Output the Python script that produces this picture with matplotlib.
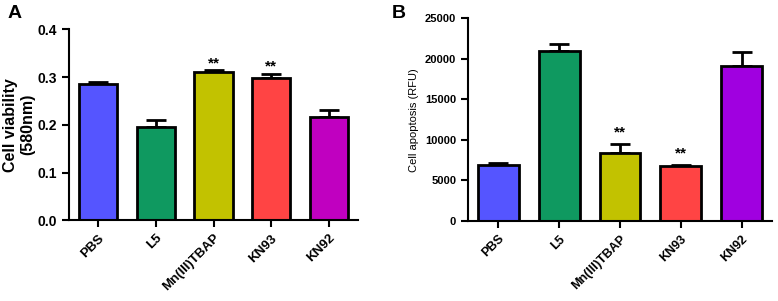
import matplotlib.pyplot as plt
import numpy as np

plt.rcParams['font.family'] = ['Liberation Sans', 'DejaVu Sans']

groups = ['PBS', 'L5', 'Mn(III)TBAP', 'KN93', 'KN92']

viability = [0.285, 0.195, 0.310, 0.298, 0.216]
viability_err = [0.005, 0.015, 0.004, 0.009, 0.015]
viability_sig = ['', '', '**', '**', '']

apoptosis = [6900, 21000, 8400, 6800, 19100]
apoptosis_err = [300, 850, 1100, 120, 1750]
apoptosis_sig = ['', '', '**', '**', '']

colors_a = ['#5555FF', '#0F9960', '#C2C200', '#FF4444', '#C000C0']
colors_b = ['#5555FF', '#0F9960', '#C2C200', '#FF4444', '#A000E0']


def draw_panel(ax, vals, errs, sig, colors, yticks, ylabel, xtick_fs, ytick_fs,
               label_fs, label_bold, star_pad, width, labelpad):
    x = np.arange(len(vals))
    ax.bar(x, vals, width=width, color=colors, edgecolor='black', linewidth=2, zorder=2)
    ax.errorbar(x, vals, yerr=[np.zeros(len(vals)), errs], fmt='none',
                ecolor='black', elinewidth=2, capsize=7, capthick=2, zorder=1)
    for xi, v, e, s in zip(x, vals, errs, sig):
        if s:
            ax.text(xi, v + e + star_pad, s, ha='center', va='bottom',
                    fontsize=11, fontweight='bold')
    ax.set_xlim(-0.5, len(vals) - 0.5)
    ax.set_ylim(yticks[0], yticks[-1])
    ax.set_yticks(yticks)
    ax.set_xticks(x)
    ax.set_xticklabels(groups, rotation=45, ha='right', rotation_mode='anchor',
                       fontsize=xtick_fs, fontweight='bold')
    for lab in ax.get_yticklabels():
        lab.set_fontsize(ytick_fs)
        lab.set_fontweight('bold')
    ax.set_ylabel(ylabel, fontsize=label_fs, labelpad=labelpad,
                  fontweight='bold' if label_bold else 'normal')
    ax.spines['top'].set_visible(False)
    ax.spines['right'].set_visible(False)
    ax.spines['left'].set_linewidth(1.5)
    ax.spines['bottom'].set_linewidth(1.5)
    ax.tick_params(width=1.5, length=5)


fig = plt.figure(figsize=(7.78, 3.01), dpi=100)
ax_a = fig.add_axes([69 / 778, 1 - 220.3 / 301, 289 / 778, 191 / 301])
ax_b = fig.add_axes([468 / 778, 1 - 221 / 301, 304 / 778, 202.7 / 301])

draw_panel(ax_a, viability, viability_err, viability_sig, colors_a,
           [0.0, 0.1, 0.2, 0.3, 0.4], 'Cell viability\n(580nm)', 9.5, 10, 11.5,
           True, 0.0, 0.66, 1.5)
ax_a.yaxis.set_major_formatter(plt.FormatStrFormatter('%.1f'))

draw_panel(ax_b, apoptosis, apoptosis_err, apoptosis_sig, colors_b,
           [0, 5000, 10000, 15000, 20000, 25000], 'Cell apoptosis (RFU)', 9, 8, 8,
           False, 500, 0.67, 4)

fig.text(8 / 778, 1 - 14 / 301, 'A', fontsize=14, fontweight='bold', va='center')
fig.text(392 / 778, 1 - 14 / 301, 'B', fontsize=14, fontweight='bold', va='center')

fig.savefig('out.png', dpi=100)
